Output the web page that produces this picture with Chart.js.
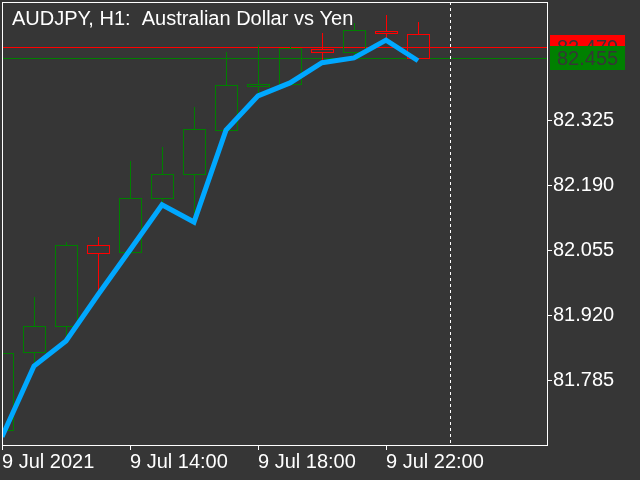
<!DOCTYPE html>
<html>
<head>
<meta charset="utf-8">
<script src="https://cdn.jsdelivr.net/npm/chart.js@4.4.1/dist/chart.umd.min.js"></script>
<style>
  html, body { margin: 0; padding: 0; background: #363636; }
  #wrap { width: 640px; height: 480px; }
</style>
</head>
<body>
<div id="wrap"><canvas id="chart" width="640" height="480"></canvas></div>
<script>
// AUDJPY H1 bars, 9 Jul 2021 10:00 .. 23:00
const barTimes = ['10:00','11:00','12:00','13:00','14:00','15:00','16:00','17:00','18:00','19:00','20:00','21:00','22:00','23:00'];
const opens  = [81.683, 81.845, 81.899, 82.068, 82.053, 82.165, 82.215, 82.306, 82.398, 82.402, 82.475, 82.468, 82.512, 82.506];
const highs  = [81.845, 81.960, 82.074, 82.084, 82.242, 82.271, 82.354, 82.468, 82.483, 82.479, 82.508, 82.529, 82.545, 82.531];
const lows   = [81.681, 81.822, 81.870, 81.968, 82.049, 82.155, 82.130, 82.304, 82.375, 82.400, 82.446, 82.458, 82.495, 82.455];
const closes = [81.843, 81.899, 82.068, 82.051, 82.165, 82.215, 82.308, 82.400, 82.402, 82.477, 82.468, 82.514, 82.508, 82.455];
// blue indicator line
const lineValues = [81.669, 81.816, 81.868, 81.964, 82.057, 82.151, 82.115, 82.306, 82.377, 82.404, 82.446, 82.456, 82.493, 82.450];

const bidPrice = 82.455;
const askPrice = 82.479;
const daySeparator = 14; // 10 Jul 00:00

const xTickPos = [0, 4, 8, 12];
const xTickLabels = ['9 Jul 2021', '9 Jul 14:00', '9 Jul 18:00', '9 Jul 22:00'];
const yTicks = [81.785, 81.920, 82.055, 82.190, 82.325];

const GREEN = '#008000';
const RED = '#ff0000';
const FONT = '20px "Liberation Sans", Arial, sans-serif';

const candles = {
  id: 'candles',
  beforeDatasetsDraw(chart) {
    const {ctx, chartArea: {left, top, right, bottom}, scales: {x, y}} = chart;
    ctx.save();
    ctx.beginPath();
    ctx.rect(left, top, right - left, bottom - top);
    ctx.clip();
    ctx.lineWidth = 1;

    // bid / ask lines
    ctx.fillStyle = RED;
    ctx.fillRect(left, Math.round(y.getPixelForValue(askPrice)), right - left, 1);
    ctx.fillStyle = GREEN;
    ctx.fillRect(left, Math.round(y.getPixelForValue(bidPrice)), right - left, 1);

    // day separator
    const xs = Math.round(x.getPixelForValue(daySeparator)) + 0.5;
    ctx.strokeStyle = '#ffffff';
    ctx.setLineDash([3, 3]);
    ctx.beginPath(); ctx.moveTo(xs, top); ctx.lineTo(xs, bottom); ctx.stroke();
    ctx.setLineDash([]);

    const half = Math.round(x.getPixelForValue(0.34) - x.getPixelForValue(0));
    barTimes.forEach((t, i) => {
      const cx = Math.round(x.getPixelForValue(i)) + 0.5;
      const o = Math.round(y.getPixelForValue(opens[i]));
      const c = Math.round(y.getPixelForValue(closes[i]));
      const h = Math.round(y.getPixelForValue(highs[i]));
      const l = Math.round(y.getPixelForValue(lows[i]));
      const bodyTop = Math.min(o, c), bodyBot = Math.max(o, c);
      ctx.strokeStyle = closes[i] >= opens[i] ? GREEN : RED;
      ctx.beginPath();
      ctx.moveTo(cx, h); ctx.lineTo(cx, bodyTop);
      ctx.moveTo(cx, bodyBot); ctx.lineTo(cx, l);
      ctx.stroke();
      ctx.strokeRect(cx - half, bodyTop + 0.5, half * 2, Math.max(bodyBot - bodyTop, 1));
    });
    ctx.restore();
  },
  afterDraw(chart) {
    const {ctx, chartArea: {left, top, right, bottom}, scales: {y}} = chart;
    ctx.save();
    ctx.strokeStyle = '#ffffff';
    ctx.lineWidth = 1;
    ctx.strokeRect(left + 0.5, top + 0.5, right - left, bottom - top);

    ctx.font = FONT;
    ctx.fillStyle = '#ffffff';
    ctx.textBaseline = 'alphabetic';
    ctx.fillText('AUDJPY, H1:  Australian Dollar vs Yen', 12, 25);

    // price labels
    ctx.textBaseline = 'middle';
    const boxX = right + 3, boxW = 75, boxH = 24;
    [[askPrice, RED], [bidPrice, GREEN]].forEach(([p, col]) => {
      const py = Math.round(y.getPixelForValue(p));
      ctx.fillStyle = col;
      ctx.fillRect(boxX, py - boxH / 2, boxW, boxH);
      ctx.fillStyle = '#363636';
      ctx.fillText(p.toFixed(3), boxX + 7, py + 1);
    });
    ctx.restore();
  }
};

new Chart(document.getElementById('chart'), {
  type: 'line',
  data: {
    datasets: [{
      data: lineValues.map((v, i) => ({x: i, y: v})),
      borderColor: 'rgb(0,168,255)',
      borderWidth: 5,
      pointRadius: 0,
      tension: 0,
      fill: false
    }]
  },
  options: {
    responsive: false,
    animation: false,
    devicePixelRatio: 1,
    layout: { padding: { left: 2, top: 2, right: 0, bottom: 0 } },
    plugins: { legend: { display: false }, tooltip: { enabled: false } },
    scales: {
      x: {
        type: 'linear',
        min: 0,
        max: 545 / 32,
        afterBuildTicks: s => { s.ticks = xTickPos.map(v => ({value: v})); },
        afterFit: s => { s.height = 35; s.paddingLeft = 0; s.paddingRight = 0; },
        grid: { drawOnChartArea: false, drawTicks: true, tickLength: 5, color: '#ffffff' },
        border: { display: false },
        ticks: {
          autoSkip: false, maxRotation: 0, align: 'start', padding: 0,
          color: '#ffffff',
          font: { family: '"Liberation Sans", Arial, sans-serif', size: 20 },
          callback: v => xTickLabels[xTickPos.indexOf(v)]
        }
      },
      y: {
        type: 'linear',
        position: 'right',
        min: 81.652,
        max: 82.572,
        afterBuildTicks: s => { s.ticks = yTicks.map(v => ({value: v})); },
        afterFit: s => { s.width = 93; s.paddingTop = 0; s.paddingBottom = 0; },
        grid: { drawOnChartArea: false, drawTicks: true, tickLength: 5, color: '#ffffff' },
        border: { display: false },
        ticks: {
          padding: 1,
          color: '#ffffff',
          font: { family: '"Liberation Sans", Arial, sans-serif', size: 20 },
          callback: v => v.toFixed(3)
        }
      }
    }
  },
  plugins: [candles]
});
</script>
</body>
</html>
